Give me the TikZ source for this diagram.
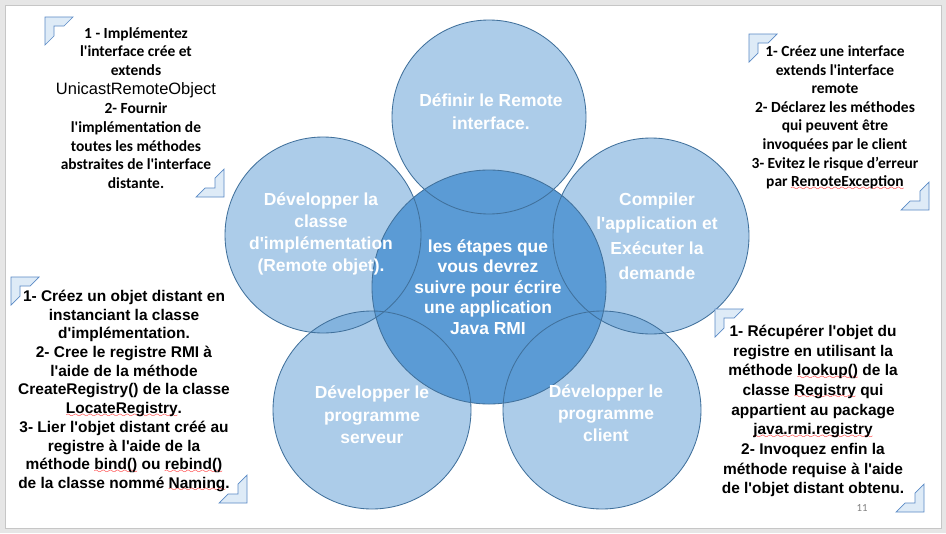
\documentclass[tikz,border=0pt]{standalone}
\usepackage{fontspec}
\setmainfont[Ligatures=TeXOff]{Liberation Sans}
\newfontfamily\calibri[Ligatures=TeXOff]{Carlito}
\font\wavefont=lasy6
\newcommand\spell[1]{\setbox0\hbox{#1}\rlap{\lower2.5pt\hbox to\wd0{\color{red}\xleaders\hbox{\wavefont\char58}\hfil}}\box0\relax}
\definecolor{rmiblue}{HTML}{5B9BD5}
\definecolor{rmiline}{HTML}{41719C}
\definecolor{cornerfill}{HTML}{DEEBF7}
\definecolor{cornerline}{HTML}{5A8AC6}
\definecolor{framegray}{HTML}{E6E6E6}
\tikzset{petal/.style = {fill=rmiblue, fill opacity=0.5},
         hub/.style = {fill=rmiblue},
         ring/.style = {draw=rmiline, line width=0.6pt},
         petaltext/.style = {text=white, align=center, inner sep=0pt},
         notecal/.style = {align=center, inner sep=0pt, font=\calibri\bfseries\fontsize{11}{13.4}\selectfont},
         notearial/.style = {align=center, inner sep=0pt, font=\bfseries\fontsize{11}{13.3}\selectfont},
         cornerbox/.style = {fill=cornerfill, draw=cornerline, line width=0.5pt, line join=miter},
         corner/.pic = {\path[cornerbox](0,0)--(28,0)--(19,9)--(9,9)--(9,19)--(0,28)--cycle;}}
\begin{document}
\begin{tikzpicture}[x=0.025cm,y=-0.025cm]
        \fill[framegray](0,0)rectangle(946,533);
        \draw[fill=white,draw=gray!45,line width=0.5pt](5,5)rectangle(941,528);
        \foreach \cx/\cy/\r in {489/117/97,323/235/98,651/236/98,372/410/99,602/410/99}
            \path[petal](\cx,\cy)circle(\r);
        \path[hub](489,287)circle(117);
        \foreach \cx/\cy/\r in {489/117/97,323/235/98,651/236/98,372/410/99,602/410/99,489/287/117}
            \path[ring](\cx,\cy)circle(\r);
        \node[petaltext,font=\bfseries\fontsize{12.4}{16.4}\selectfont](remote)at(491,112){Définir le Remote\\interface.};
        \node[petaltext,font=\bfseries\fontsize{12.4}{15.6}\selectfont](impl)at(321,234){Développer la\\classe\\d'implémentation\\(Remote objet).};
        \node[petaltext,font=\bfseries\fontsize{12.4}{17.6}\selectfont](compile)at(657,236){Compiler\\l'application et\\Exécuter la\\demande};
        \node[petaltext,font=\bfseries\fontsize{12.4}{16}\selectfont](server)at(372,415){Développer le\\programme\\serveur};
        \node[petaltext,font=\bfseries\fontsize{12.4}{15.6}\selectfont](client)at(606,413){Développer le\\programme\\client};
        \node[petaltext,font=\bfseries\fontsize{12.4}{14.6}\selectfont](steps)at(488,287){les étapes que\\vous devrez\\suivre pour écrire\\une application\\Java RMI};
        \node[notecal](implnote)at(136,108){1 - Implémentez\\l'interface crée et\\extends\\{\mdseries\rmfamily\fontsize{11.7}{13.4}\selectfont UnicastRemoteObject}\\2- Fournir\\l'implémentation de\\toutes les méthodes\\abstraites de l'interface\\distante.};
        \node[notecal,font=\calibri\bfseries\fontsize{11}{13.2}\selectfont](remotenote)at(835,118){1- Créez une interface\\extends l'interface\\remote\\2- Déclarez les méthodes\\qui peuvent être\\invoquées par le client\\3- Evitez le risque d’erreur\\par \spell{RemoteException}};
        \node[notearial](servernote)at(124,391){1- Créez un objet distant en\\instanciant la classe\\d'implémentation.\\2- Cree le registre RMI à\\l'aide de la méthode\\CreateRegistry() de la classe\\\spell{LocateRegistry}.\\3- Lier l'objet distant créé au\\registre à l'aide de la\\méthode \spell{bind()} ou \spell{rebind()}\\de la classe nommé \spell{Naming}.};
        \node[notearial,font=\bfseries\fontsize{11}{14}\selectfont](clientnote)at(813,411){1- Récupérer l'objet du\\registre en utilisant la\\méthode \spell{lookup()} de la\\classe \spell{Registry} qui\\appartient au package\\\spell{java.rmi.registry}\\2- Invoquez enfin la\\méthode requise à l'aide\\de l'objet distant obtenu.};
        \pic at(45,17){corner};
        \pic[rotate=180]at(224,197){corner};
        \pic at(749,34){corner};
        \pic[rotate=180]at(929,210){corner};
        \pic at(11,277){corner};
        \pic[rotate=180]at(247,503){corner};
        \pic at(715,309){corner};
        \pic[rotate=180]at(924,512){corner};
        \node[text=gray,font=\calibri\fontsize{7.7}{9}\selectfont](pagenum)at(862,508){11};
\end{tikzpicture}
\end{document}
